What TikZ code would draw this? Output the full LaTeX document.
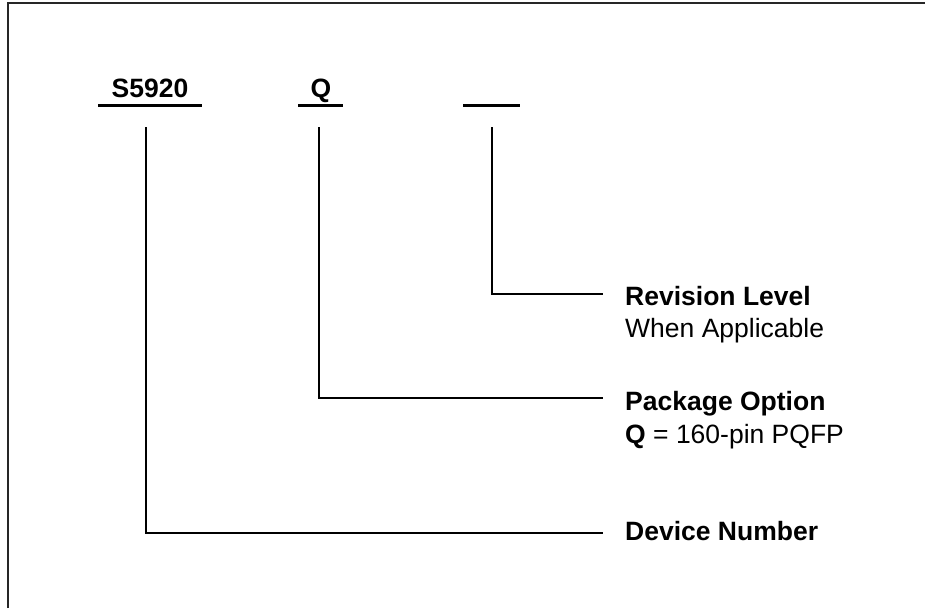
\documentclass[tikz,border=0pt]{standalone}
\usepackage{fontspec}
\setmainfont{Liberation Sans}
\usetikzlibrary{positioning}

\begin{document}
\begin{tikzpicture}[x=1pt,y=-1pt,
  code/.style={font=\fontsize{26.5}{32}\selectfont\bfseries,inner sep=0pt,anchor=base},
  title/.style={font=\fontsize{26.5}{32}\selectfont\bfseries,inner sep=0pt,anchor=base west},
  note/.style={font=\fontsize{26.5}{32}\selectfont,inner sep=0pt,anchor=base west},
  uline/.style={line width=3pt},
  lead/.style={line width=2.8pt}
]
  \useasboundingbox (0,0) rectangle (925,608);
  % frame
  \draw[line width=2pt,black!85] (8,608) -- (8,3) -- (925,3);

  % part number fields
  \node[code] (dev) at (150,97) {S5920};
  \node[code] (pkg) at (321,97) {Q};
  \draw[uline] (98,105) -- (202,105);
  \draw[uline] (298,105) -- (343,105);
  \draw[uline] (463,105) -- (520,105);

  \coordinate (devtop) at (146,127);
  \coordinate (pkgtop) at (319,127);
  \coordinate (revtop) at (492,127);

  % descriptions
  \node[title] (rev) at (625,305) {Revision Level};
  \node[note] (revsub) at ([yshift=-32pt]rev.base west) {When Applicable};
  \node[title] (opt) at (625,410) {Package Option};
  \node[note] (optsub) at ([yshift=-33pt]opt.base west) {\textbf{Q} = 160-pin PQFP};
  \node[title] (num) at (625,540) {Device Number};

  \coordinate (revend) at (603,294);
  \coordinate (optend) at (603,398);
  \coordinate (numend) at (603,533);

  \draw[lead] (revtop) |- (revend);
  \draw[lead] (pkgtop) |- (optend);
  \draw[lead] (devtop) |- (numend);
\end{tikzpicture}
\end{document}
